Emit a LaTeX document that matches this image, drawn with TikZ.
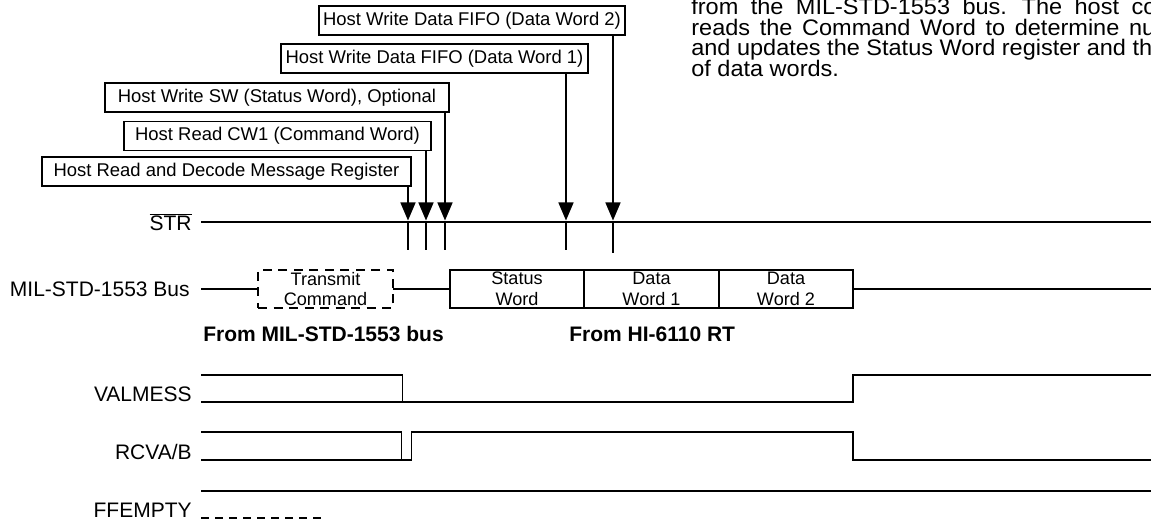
\documentclass[tikz,border=0pt]{standalone}
\usepackage{fontspec}
\setmainfont{Liberation Sans}
\newfontfamily\parafont[FakeStretch=1.045]{Liberation Sans}
\usetikzlibrary{arrows.meta,positioning}

\begin{document}
\begin{tikzpicture}[
  hostbox/.style={draw, line width=1.1pt, minimum height=0.58cm, inner sep=0pt, font=\fontsize{10.5}{12}\selectfont},
  wordbox/.style={draw, line width=1.1pt, minimum width=2.69cm, minimum height=0.76cm, inner sep=0pt, outer sep=0pt, align=center, font=\fontsize{10.3}{11.7}\selectfont},
  siglabel/.style={inner sep=0pt, font=\fontsize{11.95}{14}\selectfont},
  hostarrow/.style={line width=0.9pt, -{Triangle[length=0.36cm,width=0.30cm]}},
  wave/.style={line width=0.9pt},
  paraline/.style={inner sep=0pt, anchor=base west, font=\parafont\fontsize{12.8}{15}\selectfont}
]
\useasboundingbox (0,0) rectangle (23.020,-10.460);

% cut-off paragraph, top right
\begin{scope}
\clip (0,0) rectangle (23.020,-10.460);
\node[paraline] (parone) at (13.820,-0.300) {\spaceskip=7.1pt from the MIL-STD-1553 bus. The host co};
\node[paraline] (partwo) at (13.820,-0.710) {\spaceskip=5.5pt reads the Command Word to determine nu};
\node[paraline] (parthree) at (13.820,-1.120) {and updates the Status Word register and th};
\node[paraline] (parfour) at (13.820,-1.530) {of data words.};
\end{scope}

% host actions
\node[hostbox, minimum width=6.12cm] (dwtwo) at (9.440,-0.410) {Host Write Data FIFO (Data Word 2)};
\node[hostbox, minimum width=6.14cm] (dwone) at (8.690,-1.170) {Host Write Data FIFO (Data Word 1)};
\node[hostbox, minimum width=6.88cm] (wrsw) at (5.540,-1.950) {Host Write SW (Status Word), Optional};
\node[hostbox, minimum width=6.14cm] (rdcw) at (5.550,-2.720) {Host Read CW1 (Command Word)};
\node[hostbox, minimum width=7.38cm] (rdmsg) at (4.528,-3.430) {Host Read and Decode Message Register};

\coordinate (tipmsg) at (8.160,-4.410);
\coordinate (tipcw) at (8.520,-4.410);
\coordinate (tipsw) at (8.900,-4.410);
\coordinate (tipone) at (11.320,-4.410);
\coordinate (tiptwo) at (12.260,-4.410);
\draw[hostarrow] (rdmsg.south -| tipmsg) -- (tipmsg);
\draw[hostarrow] (rdcw.south -| tipcw) -- (tipcw);
\draw[hostarrow] (wrsw.south -| tipsw) -- (tipsw);
\draw[hostarrow] (dwone.south -| tipone) -- (tipone);
\draw[hostarrow] (dwtwo.south -| tiptwo) -- (tiptwo);

% STR
\node[siglabel, anchor=base east] (str) at (3.840,-4.620) {$\overline{\mbox{STR}}$};
\draw[line width=1.1pt] (4.020,-4.440) -- (23.020,-4.440);
\draw[wave] (8.160,-4.440) -- (8.160,-5.000);
\draw[wave] (8.520,-4.440) -- (8.520,-5.000);
\draw[wave] (8.900,-4.440) -- (8.900,-5.000);
\draw[wave] (11.320,-4.440) -- (11.320,-5.000);
\draw[wave] (12.260,-4.440) -- (12.260,-5.060);

% bus
\node[siglabel, anchor=east] (buslbl) at (3.800,-5.780) {MIL-STD-1553 Bus};
\node[wordbox, minimum width=2.70cm, dash pattern=on 0.18cm off 0.13cm] (tcmd) at (6.510,-5.780) {Transmit\\Command};
\node[wordbox] (stw) at (10.340,-5.780) {Status\\Word};
\node[wordbox, right=0pt of stw] (dwa) {Data\\Word 1};
\node[wordbox, right=0pt of dwa] (dwb) {Data\\Word 2};
\draw[wave] (4.020,-5.780) -- (tcmd.west);
\draw[wave] (tcmd.east) -- (stw.west);
\draw[wave] (dwb.east) -- (23.020,-5.780);
\node[siglabel, anchor=base west, font=\fontsize{11.95}{14}\selectfont\bfseries] (frombus) at (4.060,-6.840) {From MIL-STD-1553 bus};
\node[siglabel, anchor=base west, font=\fontsize{11.95}{14}\selectfont\bfseries] (fromrt) at (11.380,-6.840) {From HI-6110 RT};

% VALMESS
\node[siglabel, anchor=base east] (valmess) at (3.840,-8.040) {VALMESS};
\draw[wave] (4.020,-7.500) -- (8.050,-7.500) -- (8.050,-8.040);
\draw[wave] (4.020,-8.040) -- (17.060,-8.040) -- (17.060,-7.500) -- (23.020,-7.500);

% RCVA/B
\node[siglabel, anchor=base east] (rcvab) at (3.840,-9.200) {RCVA/B};
\draw[wave] (4.020,-8.640) -- (8.030,-8.640) -- (8.030,-9.200);
\draw[wave] (4.020,-9.200) -- (8.230,-9.200) -- (8.230,-8.640) -- (17.060,-8.640) -- (17.060,-9.200) -- (23.020,-9.200);

% FFEMPTY
\node[siglabel, anchor=base east] (ffempty) at (3.840,-10.360) {FFEMPTY};
\draw[wave] (4.020,-9.820) -- (23.020,-9.820);
\draw[wave, dash pattern=on 0.16cm off 0.12cm] (4.020,-10.360) -- (6.500,-10.360);
\end{tikzpicture}
\end{document}
